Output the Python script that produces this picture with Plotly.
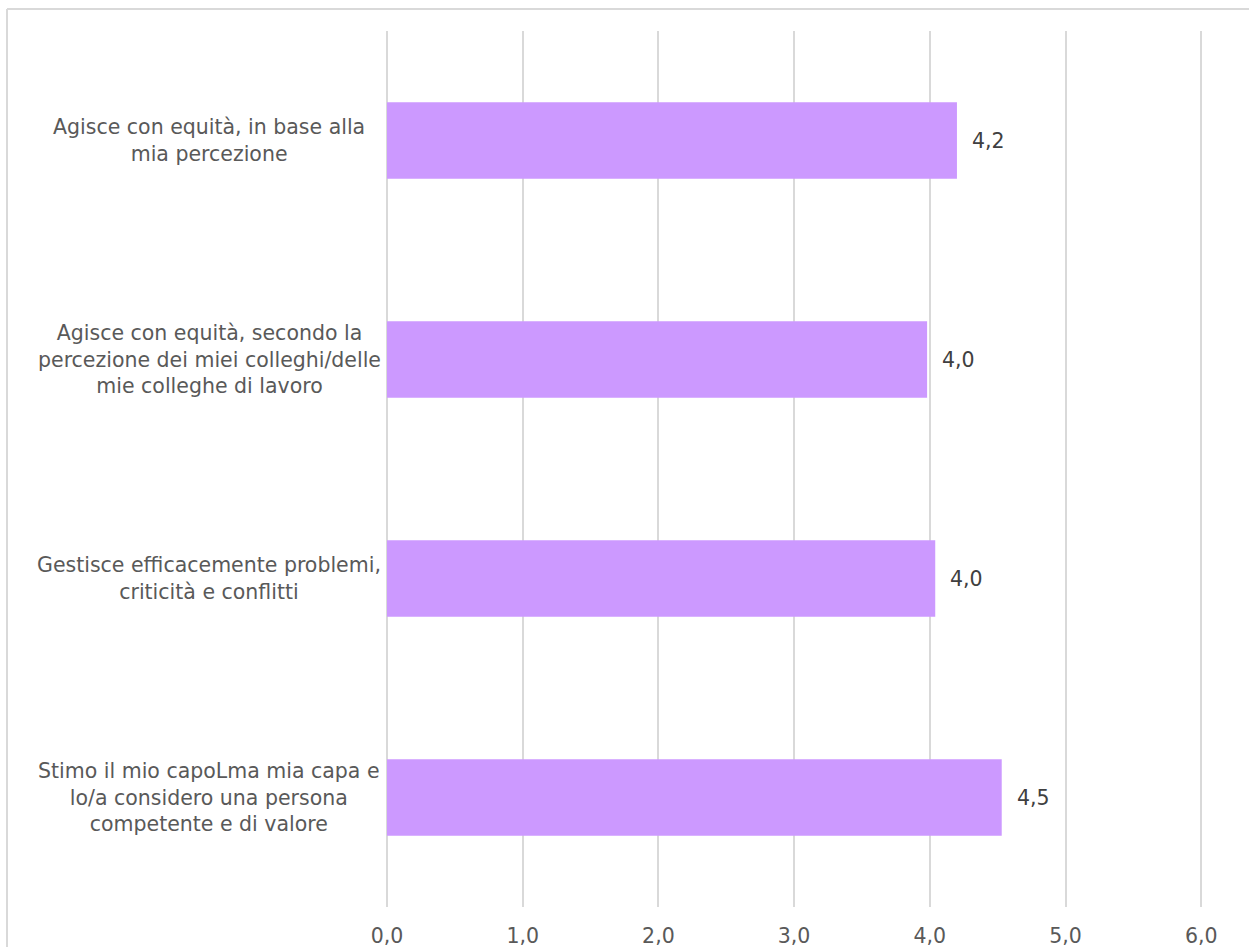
import plotly.graph_objects as go

categories = [
    "Agisce con equità, in base alla<br>mia percezione",
    "Agisce con equità, secondo la<br>percezione dei miei colleghi/delle<br>mie colleghe di lavoro",
    "Gestisce efficacemente problemi,<br>criticità e conflitti",
    "Stimo il mio capoLma mia capa e<br>lo/a considero una persona<br>competente e di valore",
]
values = [4.2, 3.98, 4.04, 4.53]
x_ticks = [0, 1, 2, 3, 4, 5, 6]

BAR_COLOR = "#CC99FF"
GRID = "#D9D9D9"
FONT = "Verdana, DejaVu Sans, sans-serif"
FS = 20.5

W, H = 1249, 947
X_MAX = 6.05  # a bit past 6 so the last gridline is drawn
M_L, M_T, M_B = 387, 31, 40
unit = (1201 - M_L) / 6
plot_w = unit * X_MAX
M_R = int(round(W - M_L - plot_w))
plot_w = W - M_L - M_R
plot_h = H - M_T - M_B

fig = go.Figure()
fig.add_trace(
    go.Bar(
        x=values,
        y=categories,
        orientation="h",
        marker={"color": BAR_COLOR, "line": {"width": 0}},
        hoverinfo="x+y",
    )
)

# value labels to the right of each bar
for cat, val in zip(categories, values):
    fig.add_annotation(
        x=val, y=cat, xref="x", yref="y",
        text=f"{val:.1f}".replace(".", ","),
        showarrow=False, xanchor="left", xshift=13,
        font={"size": FS, "color": "#404040", "family": FONT},
    )

# category labels, centred to the left of the plot
for cat in categories:
    fig.add_annotation(
        x=(209 - M_L) / plot_w, y=cat, xref="paper", yref="y",
        text=cat, showarrow=False, xanchor="center", align="center",
        font={"size": FS, "color": "#595959", "family": FONT},
    )

# light chart border: only its left and top edges fall inside the page
bx0 = (7 - M_L) / plot_w
by1 = 1 + (M_T - 9) / plot_h
fig.add_shape(
    type="line", xref="paper", yref="paper",
    x0=bx0, x1=bx0, y0=-(M_B + 5) / plot_h, y1=by1,
    line={"color": GRID, "width": 2}, layer="below",
)
fig.add_shape(
    type="line", xref="paper", yref="paper",
    x0=bx0, x1=(W + 5 - M_L) / plot_w, y0=by1, y1=by1,
    line={"color": GRID, "width": 2}, layer="below",
)

fig.update_layout(
    width=W, height=H,
    margin={"l": M_L, "r": M_R, "t": M_T, "b": M_B, "autoexpand": False},
    paper_bgcolor="white", plot_bgcolor="white",
    separators=",.",
    bargap=0.65,
    showlegend=False,
    font={"family": FONT, "size": FS, "color": "#595959"},
    xaxis={
        "range": [0, X_MAX], "tickvals": x_ticks, "tickformat": ".1f",
        "showgrid": True, "gridcolor": GRID, "gridwidth": 2,
        "zeroline": True, "zerolinecolor": GRID, "zerolinewidth": 2,
        "showline": False, "ticks": "", "ticklabelstandoff": 14,
        "automargin": False,
        "tickfont": {"size": FS, "color": "#595959"},
    },
    yaxis={
        "categoryorder": "array", "categoryarray": categories,
        "autorange": "reversed", "showticklabels": False, "automargin": False,
        "showgrid": False, "zeroline": False, "showline": False,
    },
)

# drop the default body margin so the figure sits at the page corner
fig.write_html(
    "out.html",
    config={"displayModeBar": False},
    post_script="document.body.style.margin='0';document.body.style.overflow='hidden';",
)
